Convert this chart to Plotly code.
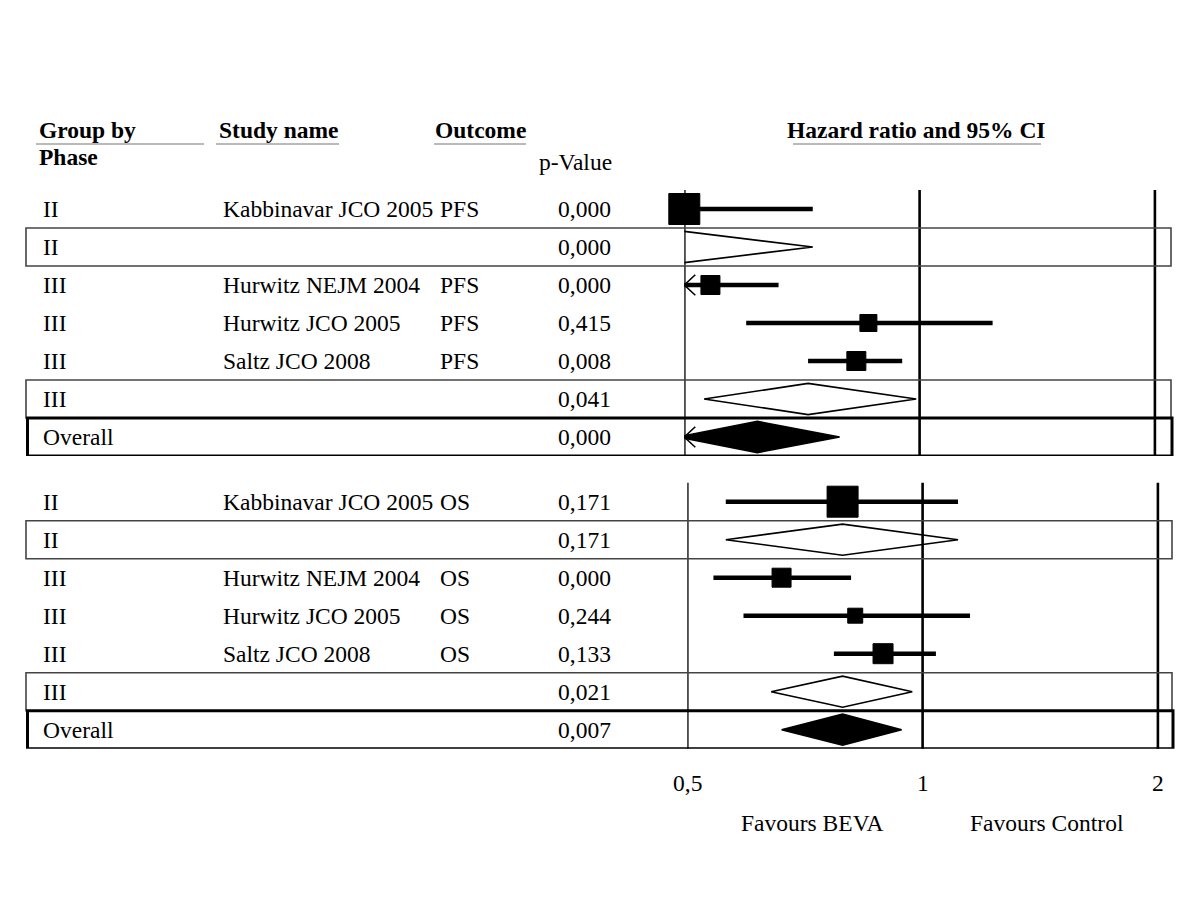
import math
import plotly.graph_objects as go

# ---------------- data ----------------
phase = ["II", "II", "III", "III", "III", "III", "Overall"]
kind = ["study", "subtotal", "study", "study", "study", "subtotal", "overall"]

study_pfs = ["Kabbinavar JCO 2005", "", "Hurwitz NEJM 2004", "Hurwitz JCO 2005", "Saltz JCO 2008", "", ""]
outcome_pfs = ["PFS", "", "PFS", "PFS", "PFS", "", ""]
p_pfs = ["0,000", "0,000", "0,000", "0,415", "0,008", "0,041", "0,000"]
hr_pfs = [0.50, 0.50, 0.54, 0.86, 0.83, 0.72, 0.62]
lo_pfs = [0.34, 0.34, 0.45, 0.60, 0.72, 0.53, 0.49]
hi_pfs = [0.73, 0.73, 0.66, 1.24, 0.95, 0.99, 0.79]
weight_pfs = [31, 0, 19, 17, 19, 0, 0]

study_os = ["Kabbinavar JCO 2005", "", "Hurwitz NEJM 2004", "Hurwitz JCO 2005", "Saltz JCO 2008", "", ""]
outcome_os = ["OS", "", "OS", "OS", "OS", "", ""]
p_os = ["0,171", "0,171", "0,000", "0,244", "0,133", "0,021", "0,007"]
hr_os = [0.79, 0.79, 0.66, 0.82, 0.89, 0.79, 0.79]
lo_os = [0.56, 0.56, 0.54, 0.59, 0.77, 0.64, 0.66]
hi_os = [1.11, 1.11, 0.81, 1.15, 1.04, 0.97, 0.94]
weight_os = [31, 0, 19, 15, 20, 0, 0]

tick_vals = [0.5, 1, 2]
tick_text = ["0,5", "1", "2"]
headers = ["Group by", "Study name", "Outcome", "Hazard ratio and 95% CI"]

# ---------------- layout constants ----------------
W, H = 1200, 900
OFF = 8  # page body margin of the browser
FONT = "Liberation Serif, Times New Roman, serif"
FS = 23.5
XMIN, XMAX = 0.5, 2.1
OCT = 235.3  # pixels per doubling of the hazard ratio
INK = "#000000"


def px(v):
    return (v - OFF) / W


def py(v):
    return 1 - (v - OFF) / H


def right_edge(left_px):
    return left_px + OCT * math.log2(XMAX / XMIN)


fig = go.Figure()
panels = [
    dict(xa="x", ya="y", study=study_pfs, outcome=outcome_pfs, p=p_pfs, hr=hr_pfs, lo=lo_pfs,
         hi=hi_pfs, w=weight_pfs, xdom=[px(684.3), px(right_edge(684.3))], ydom=[py(456), py(190)],
         box_r=1172),
    dict(xa="x2", ya="y2", study=study_os, outcome=outcome_os, p=p_os, hr=hr_os, lo=lo_os,
         hi=hi_os, w=weight_os, xdom=[px(687.3), px(right_edge(687.3))], ydom=[py(748.7), py(482.7)],
         box_r=1173),
]

shapes = []
annotations = []

for P in panels:
    xa, ya = P["xa"], P["ya"]
    n = len(phase)
    # CI lines for studies
    for i in range(n):
        if kind[i] == "study":
            fig.add_trace(go.Scatter(x=[P["lo"][i], P["hi"][i]], y=[i, i], mode="lines",
                                     line=dict(color=INK, width=4.5), xaxis=xa, yaxis=ya,
                                     showlegend=False, hoverinfo="skip"))
    # arrows for CI beyond the left axis limit
    for i in range(n):
        if kind[i] != "subtotal" and P["lo"][i] < XMIN:
            f = 2 ** (11 / OCT)
            fig.add_trace(go.Scatter(x=[XMIN * f, XMIN, XMIN * f], y=[i - 0.27, i, i + 0.27],
                                     mode="lines", line=dict(color=INK, width=1.6),
                                     xaxis=xa, yaxis=ya, showlegend=False, hoverinfo="skip"))
    # diamonds
    for i in range(n):
        if kind[i] in ("subtotal", "overall"):
            h = 0.41
            fill = INK if kind[i] == "overall" else "white"
            fig.add_trace(go.Scatter(
                x=[P["lo"][i], P["hr"][i], P["hi"][i], P["hr"][i], P["lo"][i]],
                y=[i, i - h, i, i + h, i], mode="lines", fill="toself", fillcolor=fill,
                line=dict(color=INK, width=1.6), xaxis=xa, yaxis=ya,
                showlegend=False, hoverinfo="skip"))
    # squares
    idx = [i for i in range(n) if kind[i] == "study"]
    fig.add_trace(go.Scatter(x=[P["hr"][i] for i in idx], y=idx, mode="markers",
                             marker=dict(symbol="square", size=[P["w"][i] for i in idx],
                                         color=INK, opacity=1, line=dict(width=1, color=INK)),
                             opacity=1, cliponaxis=False, xaxis=xa, yaxis=ya, showlegend=False,
                             hoverinfo="skip"))
    # vertical reference lines
    for v in tick_vals:
        shapes.append(dict(type="line", xref=xa, yref=ya + " domain", x0=v, x1=v, y0=0, y1=1,
                           line=dict(color=INK, width=2.6)))
    # boxes
    for i in range(n):
        if kind[i] == "subtotal":
            shapes.append(dict(type="rect", xref="paper", yref=ya, x0=px(26), x1=px(P["box_r"] - 1),
                               y0=i - 0.5, y1=i + 0.5, line=dict(color="#444", width=1.6)))
        elif kind[i] == "overall":
            shapes.append(dict(type="rect", xref="paper", yref=ya, x0=px(27.5), x1=px(P["box_r"]),
                               y0=i - 0.5, y1=i + 0.5, line=dict(color=INK, width=3)))
    # table text
    for i in range(n):
        annotations.append(dict(text=phase[i], xref="paper", yref=ya, x=px(41), y=i,
                                xanchor="left", yanchor="middle", showarrow=False))
        if P["study"][i]:
            annotations.append(dict(text=P["study"][i], xref="paper", yref=ya, x=px(221), y=i,
                                    xanchor="left", yanchor="middle", showarrow=False))
        if P["outcome"][i]:
            annotations.append(dict(text=P["outcome"][i], xref="paper", yref=ya, x=px(438), y=i,
                                    xanchor="left", yanchor="middle", showarrow=False))
        annotations.append(dict(text=P["p"][i], xref="paper", yref=ya, x=px(613), y=i,
                                xanchor="right", yanchor="middle", showarrow=False))

# tick labels under the lower panel
for v, t in zip(tick_vals, tick_text):
    annotations.append(dict(text=t, xref="x2", yref="paper", x=math.log10(v), y=py(783),
                            xanchor="center", yanchor="middle", showarrow=False))
annotations.append(dict(text="Favours BEVA", xref="paper", yref="paper", x=px(812), y=py(823),
                        xanchor="center", yanchor="middle", showarrow=False))
annotations.append(dict(text="Favours Control", xref="paper", yref="paper", x=px(1047), y=py(823),
                        xanchor="center", yanchor="middle", showarrow=False))

# headers
hdr_pos = [(37, "left"), (217, "left"), (433, "left"), (916, "center")]
for t, (x, anc) in zip(headers, hdr_pos):
    annotations.append(dict(text="<b>%s</b>" % t, xref="paper", yref="paper", x=px(x), y=py(130),
                            xanchor=anc, yanchor="middle", showarrow=False))
annotations.append(dict(text="<b>Phase</b>", xref="paper", yref="paper", x=px(37), y=py(157),
                        xanchor="left", yanchor="middle", showarrow=False))
annotations.append(dict(text="p-Value", xref="paper", yref="paper", x=px(614), y=py(162),
                        xanchor="right", yanchor="middle", showarrow=False))
for x0, x1 in [(36, 204), (216, 339), (434, 526), (793, 1041)]:
    shapes.append(dict(type="line", xref="paper", yref="paper", x0=px(x0), x1=px(x1),
                       y0=py(144), y1=py(144), line=dict(color="#777", width=1.2)))

axis_common = dict(showgrid=False, zeroline=False, showline=False, showticklabels=False,
                   ticks="", fixedrange=True)
fig.update_layout(
    width=W, height=H, margin=dict(l=0, r=0, t=0, b=0),
    paper_bgcolor="white", plot_bgcolor="white",
    font=dict(family=FONT, size=FS, color=INK),
    xaxis=dict(type="log", range=[math.log10(XMIN), math.log10(XMAX)], domain=panels[0]["xdom"],
               anchor="y", **axis_common),
    yaxis=dict(range=[6.5, -0.5], domain=panels[0]["ydom"], anchor="x", **axis_common),
    xaxis2=dict(type="log", range=[math.log10(XMIN), math.log10(XMAX)], domain=panels[1]["xdom"],
                anchor="y2", **axis_common),
    yaxis2=dict(range=[6.5, -0.5], domain=panels[1]["ydom"], anchor="x2", **axis_common),
    shapes=shapes, annotations=annotations, showlegend=False,
)

fig.write_html("out.html")
